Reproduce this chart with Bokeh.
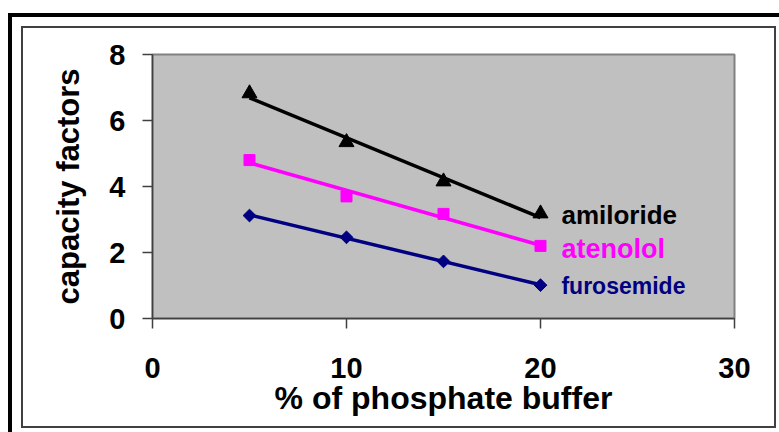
import numpy as np
from bokeh.plotting import figure
from bokeh.models import Label, FixedTicker, Range1d
from bokeh.embed import file_html
from bokeh.resources import INLINE

# % of phosphate buffer in the mobile phase
buffer_pct = [5, 10, 15, 20]

# capacity factors measured for each drug
amiloride = [6.82, 5.34, 4.15, 3.18]
atenolol = [4.80, 3.70, 3.17, 2.20]
furosemide = [3.12, 2.46, 1.73, 1.01]

x_ticks = [0, 10, 20, 30]
y_ticks = [0, 2, 4, 6, 8]

FONT = "Liberation Sans"

# heavy outer rule (left and top) and thin chart-area border, painted as
# background layers of the page element behind a transparent canvas
frame_css = ", ".join([
    "linear-gradient(#000,#000) 8px 13px / 4px 419px no-repeat",
    "linear-gradient(#000,#000) 8px 13px / 771px 4px no-repeat",
    "linear-gradient(#404040,#404040) 21px 26px / 755px 2px no-repeat",
    "linear-gradient(#404040,#404040) 21px 426px / 755px 2px no-repeat",
    "linear-gradient(#404040,#404040) 21px 26px / 2px 402px no-repeat",
    "linear-gradient(#404040,#404040) 774px 26px / 2px 402px no-repeat",
    "#ffffff",
])

p = figure(
    width=779, height=432,
    output_backend="svg", toolbar_location=None,
    x_range=Range1d(0, 30), y_range=Range1d(0, 8),
    min_border_left=152, min_border_right=45,
    min_border_top=54, min_border_bottom=114,
    background_fill_color="#C0C0C0", border_fill_color=None,
    styles={"background": frame_css},
)
p.outline_line_color = "#808080"
p.outline_line_width = 2
p.xgrid.visible = False
p.ygrid.visible = False

for ax, ticks in ((p.xaxis, x_ticks), (p.yaxis, y_ticks)):
    ax.ticker = FixedTicker(ticks=ticks)
    ax.minor_tick_line_color = None
    ax.major_tick_in = 0
    ax.major_tick_out = 10
    ax.major_tick_line_color = "#404040"
    ax.major_tick_line_width = 1.5
    ax.axis_line_color = "#404040"
    ax.axis_line_width = 1.5
    ax.major_label_text_font = FONT
    ax.major_label_text_font_style = "bold"
    ax.major_label_text_font_size = "29px"
    ax.major_label_text_color = "black"
    ax.axis_label_text_font = FONT
    ax.axis_label_text_font_style = "bold"
    ax.axis_label_text_color = "black"

p.xaxis.axis_label = "% of phosphate buffer"
p.yaxis.axis_label = "capacity factors"
p.xaxis.axis_label_text_font_size = "32px"
p.yaxis.axis_label_text_font_size = "31px"
p.xaxis.major_label_standoff = 29
p.yaxis.major_label_standoff = 17
p.xaxis.axis_label_standoff = -1
p.yaxis.axis_label_standoff = 20

x = np.array(buffer_pct, dtype=float)
series = [
    ("amiloride", amiloride, "black", "triangle", 15, 0.0, 3.14, "26px"),
    ("atenolol", atenolol, "#FF00FF", "square", 11, 0.0, 2.11, "27px"),
    ("furosemide", furosemide, "#000080", "square", 9, np.pi / 4, 0.97, "23px"),
]

for name, vals, color, marker, size, angle, label_y, fsize in series:
    # linear trend line through each drug's points
    slope, intercept = np.polyfit(x, np.array(vals), 1)
    xs = [x.min(), x.max()]
    p.line(xs, [slope * v + intercept for v in xs], line_color=color, line_width=3.5)
    p.scatter(x, vals, marker=marker, size=size, angle=angle,
              fill_color=color, line_color=color)
    p.add_layout(Label(x=21.08, y=label_y, text=name, text_color=color,
                       text_font=FONT, text_font_style="bold",
                       text_font_size=fsize, text_baseline="alphabetic"))

open("out.html", "w").write(file_html(p, INLINE))
